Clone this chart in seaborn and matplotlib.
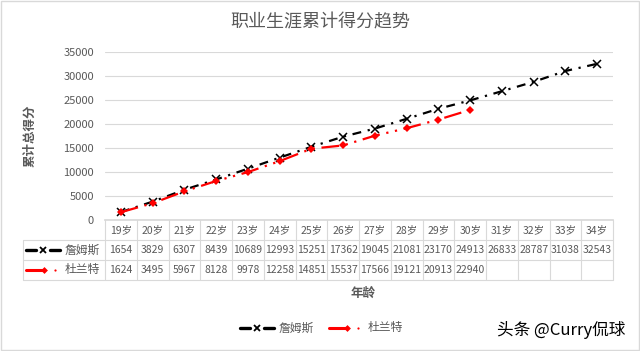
import matplotlib
matplotlib.use("Agg")
import matplotlib.pyplot as plt
import seaborn as sns
import pandas as pd
import numpy as np
from matplotlib.lines import Line2D
from matplotlib.patches import Rectangle

sns.set_theme(style="white")
plt.rcParams['font.family'] = ['Noto Sans CJK SC', 'DejaVu Sans']

ages = ["19岁", "20岁", "21岁", "22岁", "23岁", "24岁", "25岁", "26岁", "27岁",
        "28岁", "29岁", "30岁", "31岁", "32岁", "33岁", "34岁"]
james = [1654, 3829, 6307, 8439, 10689, 12993, 15251, 17362, 19045, 21081,
         23170, 24913, 26833, 28787, 31038, 32543]
durant = [1624, 3495, 5967, 8128, 9978, 12258, 14851, 15537, 17566, 19121,
          20913, 22940]
names = ["詹姆斯", "杜兰特"]
title = "职业生涯累计得分趋势"
ylabel = "累计总得分"
xlabel = "年龄"
watermark = "头条 @Curry侃球"

W, H = 640, 351
fig = plt.figure(figsize=(W / 100, H / 100), dpi=100)

PL, PR, PT, PB = 105, 613, 52, 220
ax = fig.add_axes([PL / W, 1 - PB / H, (PR - PL) / W, (PB - PT) / H])

df = pd.DataFrame({
    "age": ages * 2,
    "pts": james + durant + [np.nan] * (len(ages) - len(durant)),
    "player": [names[0]] * len(ages) + [names[1]] * len(ages),
})
df["x"] = list(range(len(ages))) * 2

sns.lineplot(data=df[df.player == names[0]], x="x", y="pts", ax=ax,
             color="black", lw=1.6, marker="x", markersize=5.5, mew=1.1,
             markeredgecolor="black")
sns.lineplot(data=df[df.player == names[1]].dropna(), x="x", y="pts", ax=ax,
             color="#ff0000", lw=1.6, marker="D", markersize=4.5, mew=0)
ax.lines[0].set_dashes([4, 3, 1, 3])
ax.lines[1].set_dashes([8, 3, 1, 3, 1, 3])

ax.set_xlim(-0.5, len(ages) - 0.5)
ax.set_ylim(0, 35000)
ax.set_yticks(range(0, 35001, 5000))
ax.set_xticks([])
ax.set_xlabel("")
ax.set_ylabel("")
ax.tick_params(axis="y", labelsize=8, labelcolor="#595959", length=0, pad=8)
ax.grid(axis="y", color="#d9d9d9", lw=0.8)
for s in ["left", "right", "top"]:
    ax.spines[s].set_visible(False)
ax.spines["bottom"].set_color("#d9d9d9")

ov = fig.add_axes([0, 0, 1, 1], zorder=-1)
ov.set_xlim(0, W)
ov.set_ylim(H, 0)
ov.axis("off")
ov2 = fig.add_axes([0, 0, 1, 1], zorder=5)
ov2.set_xlim(0, W)
ov2.set_ylim(H, 0)
ov2.axis("off")
ov2.patch.set_alpha(0)

ov.add_patch(Rectangle((1, 1), W - 2, H - 2, fill=False, ec="#d9d9d9", lw=1))

fig.text(0.5, 1 - 22 / H, title, ha="center", va="center", fontsize=13, color="#595959")
ov2.text(30, 136, ylabel, rotation=90, ha="center", va="center", fontsize=9,
         color="#595959", fontweight="bold")
ov2.text(363, 293, xlabel, ha="center", va="center", fontsize=9,
         color="#595959", fontweight="bold")

gc = "#d9d9d9"
cw = (PR - PL) / len(ages)
TL = 23
r0, r1, r2, r3 = PB, 240, 260, 280
for k in range(len(ages) + 1):
    xk = PL + cw * k
    ov2.plot([xk, xk], [r0, r3], color=gc, lw=0.8)
ov2.plot([TL, TL], [r1, r3], color=gc, lw=0.8)
for yy in (r1, r2, r3):
    ov2.plot([TL, PR], [yy, yy], color=gc, lw=0.8)
for i, a in enumerate(ages):
    xc = PL + cw * (i + 0.5)
    ov2.text(xc, (r0 + r1) / 2, a, ha="center", va="center", fontsize=7.5, color="#595959")
    ov2.text(xc, (r1 + r2) / 2, str(james[i]), ha="center", va="center", fontsize=7.5, color="#595959")
    if i < len(durant):
        ov2.text(xc, (r2 + r3) / 2, str(durant[i]), ha="center", va="center", fontsize=7.5, color="#595959")


def key(x0, yc, which):
    if which == 0:
        ov2.add_line(Line2D([x0, x0 + 10], [yc, yc], color="black", lw=2.4))
        ov2.plot([x0 + 17], [yc], marker="x", color="black", ms=4.5, mew=1.3)
        ov2.add_line(Line2D([x0 + 24, x0 + 34], [yc, yc], color="black", lw=2.4))
    else:
        ov2.add_line(Line2D([x0, x0 + 17], [yc, yc], color="#ff0000", lw=2.2))
        ov2.plot([x0 + 18], [yc], marker="D", color="#ff0000", ms=3.5, mew=0)
        ov2.plot([x0 + 29], [yc], marker="o", color="#ff0000", ms=1.6, mew=0)


key(26, (r1 + r2) / 2, 0)
ov2.text(65, (r1 + r2) / 2, names[0], ha="left", va="center", fontsize=8.5, color="#595959")
key(26, (r2 + r3) / 2, 1)
ov2.text(65, (r2 + r3) / 2, names[1], ha="left", va="center", fontsize=8.5, color="#595959")

key(240, 328, 0)
ov2.text(279, 328, names[0], ha="left", va="center", fontsize=8.5, color="#595959")
key(329, 328, 1)
ov2.text(368, 328, names[1], ha="left", va="center", fontsize=8.5, color="#595959")

ov2.text(497, 330, watermark, ha="left", va="center", fontsize=12, color="black")

fig.savefig("out.png", dpi=100)
